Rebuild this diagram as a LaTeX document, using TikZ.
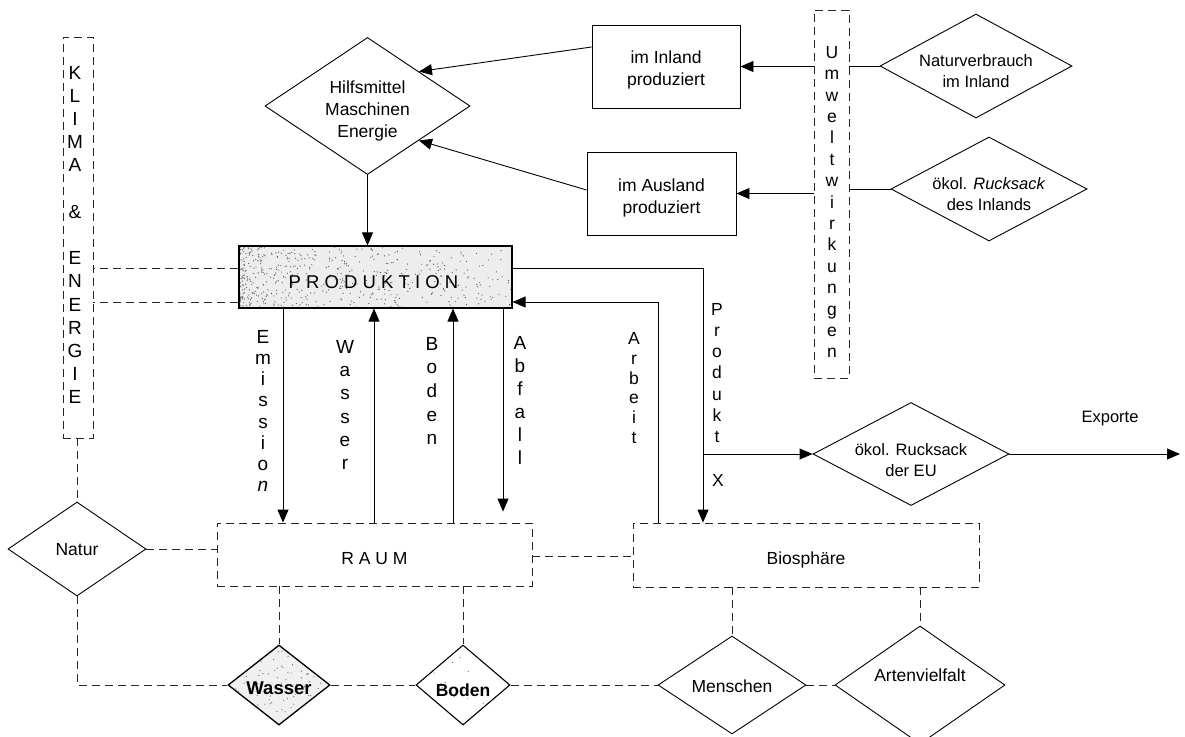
\documentclass[tikz,border=0pt]{standalone}
\usepackage{fontspec}
\setmainfont{Liberation Sans}
\usetikzlibrary{shapes.geometric,arrows.meta}
\pgfdeclarelayer{bg}
\pgfsetlayers{bg,main}

\tikzset{
  ln/.style={line width=0.9pt},
  dsh/.style={line width=0.8pt, black!85, dash pattern=on 8pt off 5pt},
  arr/.style={ln, -{Triangle[length=13pt,width=11pt]}},
  txt/.style={font=\fontsize{17.5}{22}\selectfont, align=center, inner sep=0pt},
  small/.style={font=\fontsize{16.5}{21.5}\selectfont, align=center, inner sep=0pt},
  dia/.style={diamond, draw, ln, inner sep=0pt},
  box/.style={rectangle, draw, ln, inner sep=0pt},
  dbox/.style={rectangle, draw, dsh, inner sep=0pt},
  vtext/.style={font=\fontsize{19}{#1}\selectfont, align=center, inner sep=0pt},
  vthin/.style={font=\fontsize{17.5}{#1}\selectfont, align=center, inner sep=0pt},
}

\begin{document}
\begin{tikzpicture}[x=1pt,y=-1pt]
\useasboundingbox (0,0) rectangle (1185,736);
\pgfmathsetseed{7}

% ---- frames and nodes ----
\node[dbox, minimum width=30pt, minimum height=401pt] (klima) at (78,237.5) {};
\node[vtext=23.2pt] at (75,235) {K\\L\\I\\M\\A\\[23.2pt]\&\\[23.2pt]E\\N\\E\\R\\G\\I\\E};

\node[dbox, minimum width=35pt, minimum height=368pt] (umwelt) at (831.5,194) {};
\node[vthin=21.4pt] at (832,202) {U\\m\\w\\e\\l\\t\\w\\i\\r\\k\\u\\n\\g\\e\\n};

\node[dia, minimum width=205pt, minimum height=137pt,
      label={[txt,yshift=-5pt]center:Hilfsmittel\\Maschinen\\Energie}] (hilf) at (367.5,106) {};
\node[box, minimum width=148pt, minimum height=83pt,
      label={[txt,yshift=-3pt]center:im Inland\\produziert}] (inland) at (666,66.5) {};
\node[box, minimum width=149pt, minimum height=83pt,
      label={[txt,yshift=-4pt]center:im Ausland\\produziert}] (ausland) at (661.5,193.5) {};
\node[dia, minimum width=192pt, minimum height=104pt,
      label={[small,yshift=-5pt]center:Naturverbrauch\\im Inland}] (nv) at (976,66) {};
\node[dia, minimum width=196pt, minimum height=104pt,
      label={[small,yshift=-5pt]center:ökol. \textit{Rucksack}\\des Inlands}] (rsi) at (989,189) {};

\node[box, line width=1.1pt, minimum width=273pt, minimum height=62pt,
      label={[font=\fontsize{18.5}{22}\selectfont, inner sep=0pt, xshift=-2pt, yshift=-5pt]center:P R O D U K T I O N}] (prod) at (375.5,277) {};

\node[dbox, minimum width=315pt, minimum height=63pt,
      label={[txt,yshift=-4pt]center:R A U M}] (raum) at (374.5,554.5) {};
\node[dbox, minimum width=346pt, minimum height=64pt,
      label={[txt,yshift=-5pt]center:Biosphäre}] (bio) at (806,555) {};

\node[dia, minimum width=138pt, minimum height=94pt,
      label={[txt,yshift=-1pt]center:Natur}] (natur) at (77,549) {};
\node[dia, line width=1.3pt, minimum width=102pt, minimum height=80pt,
      label={[txt,font=\fontsize{18.5}{22}\selectfont\bfseries,yshift=-3pt]center:Wasser}] (wasser) at (279,685) {};
\node[dia, line width=1.1pt, minimum width=94pt, minimum height=80pt,
      label={[txt,font=\fontsize{17.5}{22}\selectfont\bfseries,yshift=-5pt]center:Boden}] (boden) at (463,685) {};
\node[dia, minimum width=148pt, minimum height=98pt,
      label={[txt,yshift=-1pt]center:Menschen}] (menschen) at (732,685) {};
\node[dia, minimum width=170pt, minimum height=118pt,
      label={[txt,yshift=10pt]center:Artenvielfalt}] (arten) at (920,685) {};
\node[dia, minimum width=196pt, minimum height=103pt,
      label={[small,yshift=-6pt]center:ökol. Rucksack\\der EU}] (eu) at (911,454) {};

\node[small] (exporte) at (1110,419) {Exporte};
\coordinate (expend) at (1180,454);

% ---- texture of the shaded shapes ----
\begin{pgfonlayer}{bg}
  \fill[black!7] (prod.south west) rectangle (prod.north east);
  \begin{scope}
    \clip (prod.south west) rectangle (prod.north east);
    \begin{scope}[shift={(prod.north west)}]
      \foreach \i in {1,...,420}{
        \pgfmathsetmacro{\ru}{rnd}\pgfmathsetmacro{\rv}{rnd}
        \fill[black!55] ({273*\ru*\ru*\ru},{62*\rv}) circle (0.7pt);
      }
      \foreach \i in {1,...,170}{
        \pgfmathsetmacro{\ru}{rnd}\pgfmathsetmacro{\rv}{rnd}
        \fill[black!75] ({273*\ru},{62*\rv}) circle (0.55pt);
      }
    \end{scope}
  \end{scope}
  \begin{scope}
    \clip (wasser.north) -- (wasser.east) -- (wasser.south) -- (wasser.west) -- cycle;
    \fill[black!6] (wasser.north) -- (wasser.east) -- (wasser.south) -- (wasser.west) -- cycle;
    \begin{scope}[shift={(wasser.center)}]
      \foreach \i in {1,...,140}{
        \pgfmathsetmacro{\ru}{rnd}\pgfmathsetmacro{\rv}{rnd}
        \fill[black!60] ({-51+102*\ru},{-40+80*\rv}) circle (0.6pt);
      }
    \end{scope}
  \end{scope}
  \begin{scope}
    \clip (boden.north) -- (boden.east) -- (boden.south) -- (boden.west) -- cycle;
    \begin{scope}[shift={(boden.center)}]
      \foreach \i in {1,...,18}{
        \pgfmathsetmacro{\ru}{rnd}\pgfmathsetmacro{\rv}{rnd}
        \fill[black!60] ({-47+94*\ru},{-40+80*\rv}) circle (0.6pt);
      }
    \end{scope}
  \end{scope}
\end{pgfonlayer}

% ---- flow labels ----
\node[vtext=21.1pt] at (263,411) {E\\m\\i\\s\\s\\i\\o\\\textit{n}};
\node[vtext=23.2pt] at (345,405) {W\\a\\s\\s\\e\\r};
\node[vtext=23.7pt] at (432,391) {B\\o\\d\\e\\n};
\node[vtext=23pt] at (520,400) {A\\b\\f\\a\\l\\l};
\node[vthin=19.8pt] at (634,388) {A\\r\\b\\e\\i\\t};
\node[vthin=21.3pt] at (717,373) {P\\r\\o\\d\\u\\k\\t};
\node[vthin=21pt] at (718,480) {X};

% ---- connectors ----
\draw[dsh] ([yshift=9pt]prod.west) -- ([yshift=9pt]prod.west -| klima.east);
\draw[dsh] ([yshift=-25pt]prod.west) -- ([yshift=-25pt]prod.west -| klima.east);
\draw[dsh] (klima.south -| natur.north) -- (natur.north);

\draw[arr] (hilf.south) -- (hilf.south |- prod.north);
\draw[arr] ([yshift=19.5pt]inland.west) -- (hilf.north east);
\draw[arr] ([yshift=3.5pt]ausland.west) -- (hilf.south east);
\draw[arr] (umwelt.west |- inland.east) -- (inland.east);
\draw[arr] (umwelt.west |- ausland.east) -- (ausland.east);
\draw[ln] (nv.west -| umwelt.east) -- (nv.west);
\draw[ln] (rsi.west -| umwelt.east) -- (rsi.west);

\draw[arr] ([xshift=-92.5pt]prod.south) -- ([xshift=-92.5pt]prod.south |- raum.north);
\draw[arr] ([xshift=-1.5pt]prod.south |- raum.north) -- ([xshift=-1.5pt]prod.south);
\draw[arr] ([xshift=77.5pt]prod.south |- raum.north) -- ([xshift=77.5pt]prod.south);
\draw[arr, shorten >=11pt] ([xshift=127.5pt]prod.south) -- ([xshift=127.5pt]prod.south |- raum.north);
\draw[arr] ([xshift=-148pt]bio.north) |- ([yshift=-25pt]prod.east);
\draw[arr] ([yshift=9pt]prod.east) -| ([xshift=-103pt]bio.north);
\draw[arr] ([xshift=-103pt]bio.north |- eu.west) -- (eu.west);
\draw[arr] (eu.east) -- (expend);

\draw[dsh] (natur.east) -- (natur.east -| raum.west);
\draw[dsh] ([yshift=-1.5pt]raum.east) -- ([yshift=-1.5pt]raum.east -| bio.west);
\draw[dsh] (wasser.north |- raum.south) -- (wasser.north);
\draw[dsh] (boden.north |- raum.south) -- (boden.north);
\draw[dsh] (menschen.north |- bio.south) -- (menschen.north);
\draw[dsh] (arten.north |- bio.south) -- (arten.north);
\draw[dsh] (natur.south) |- (wasser.west);
\draw[dsh] (wasser.east) -- (boden.west);
\draw[dsh] (boden.east) -- (menschen.west);
\draw[dsh] (menschen.east) -- (arten.west);
\end{tikzpicture}
\end{document}
